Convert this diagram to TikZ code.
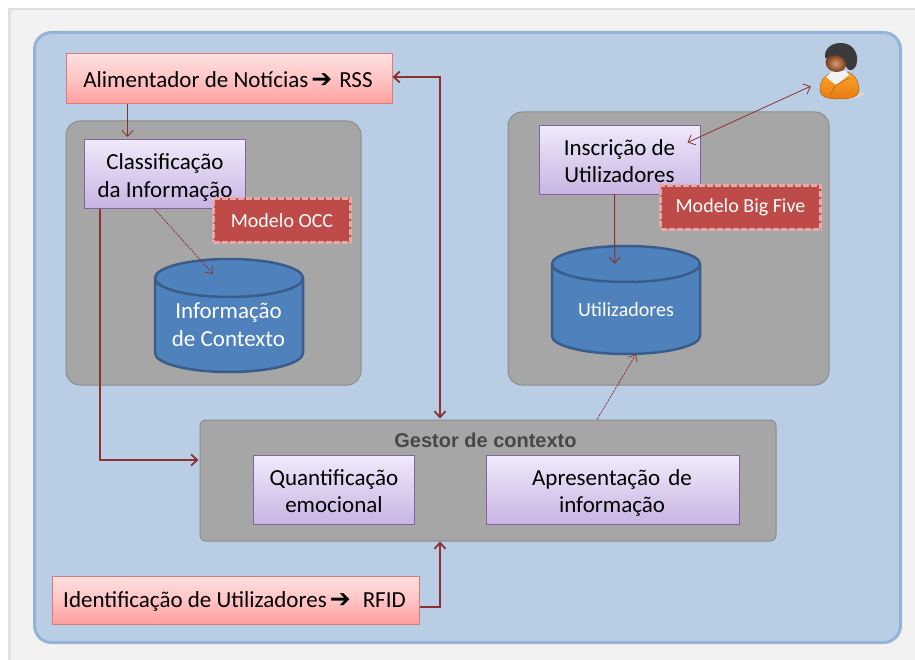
\documentclass[tikz,border=0pt]{standalone}
\usepackage{fontspec}
\setmainfont{Carlito}
\newfontfamily\arrowfont{DejaVu Sans}
\newfontfamily\headfont{Liberation Sans}
\usetikzlibrary{arrows.meta,calc}
\definecolor{panelline}{HTML}{95B3D7}
\definecolor{panelfill}{HTML}{B9CDE5}
\definecolor{groupfill}{HTML}{A6A6A6}
\definecolor{groupline}{HTML}{8C8C8C}
\definecolor{linkcol}{HTML}{8A3230}
\definecolor{modelfill}{HTML}{BE4B48}
\definecolor{modelline}{HTML}{E6A9A7}
\definecolor{cylfill}{HTML}{4F81BD}
\definecolor{cylline}{HTML}{385D8A}
\definecolor{pinktop}{HTML}{FFE0E0}
\definecolor{pinkmid}{HTML}{FFC4C4}
\definecolor{pinkbot}{HTML}{FF9E9E}
\definecolor{pinkline}{HTML}{DA7B7B}
\definecolor{purptop}{HTML}{F0E9FA}
\definecolor{purpbot}{HTML}{C8B4E3}
\definecolor{purpline}{HTML}{8064A2}
\definecolor{shirttop}{HTML}{F8A62E}
\definecolor{shirtbot}{HTML}{E97B10}
\definecolor{shirtline}{HTML}{A8590C}
\definecolor{hairc}{HTML}{3A3A3A}
\definecolor{skinlight}{HTML}{D99A72}
\definecolor{skindark}{HTML}{7A3E1E}
\newcommand{\bigarrow}{{\arrowfont\bfseries\fontsize{25}{20}\selectfont\smash{➔}}}
\newcommand{\ls}{\rule[-7pt]{0pt}{21pt}}
\tikzset{
  x=1pt,y=-1pt,
  groupbox/.style={draw=groupline,line width=1pt,fill=groupfill,rounded corners=14pt,inner sep=0pt},
  pinkbox/.style={draw=pinkline,line width=1pt,top color=pinktop,bottom color=pinkbot,middle color=pinkmid,inner sep=0pt},
  pinktext/.style={inner sep=0pt,font=\fontsize{23}{27}\selectfont,text=black},
  purplebox/.style={draw=purpline,line width=1pt,top color=purptop,bottom color=purpbot,inner sep=0pt},
  purpletext/.style={inner sep=0pt,align=center,font=\fontsize{23}{27}\selectfont,text=black},
  modelbox/.style={draw=modelline,line width=2.2pt,dash pattern=on 6pt off 2pt,fill=modelfill,inner sep=0pt,text=white,font=\fontsize{20}{22}\selectfont},
  cyl/.style={draw=cylline,line width=2.5pt,fill=cylfill},
  cyltext/.style={text=white,align=center,inner sep=0pt},
  thinlink/.style={draw=linkcol,line width=0.8pt,-{Straight Barb[length=6pt,width=11pt]}},
  thicklink/.style={draw=linkcol,line width=1.8pt,-{Straight Barb[length=6pt,width=11pt]}},
  dashlink/.style={draw=linkcol,line width=0.7pt,dash pattern=on 2.5pt off 1pt,-{Straight Barb[length=6pt,width=10pt]}},
}
\begin{document}
\begin{tikzpicture}
\useasboundingbox (0,0) rectangle (915,660);
\fill[white] (0,0) rectangle (915,660);
\fill[black!12] (8,8) rectangle (915,660);
\fill[black!5] (10.5,10.5) rectangle (915,660);
% main panel
\node[draw=panelline,line width=3pt,fill=panelfill,rounded corners=17pt,minimum width=866pt,minimum height=610pt,inner sep=0pt] (panel) at (467.5,337.5) {};
% groups
\node[groupbox,minimum width=295pt,minimum height=264pt] (groupA) at (213.5,253) {};
\node[groupbox,minimum width=321pt,minimum height=273pt] (groupB) at (668.5,248.5) {};
\node[groupbox,rounded corners=6pt,minimum width=576pt,minimum height=121pt] (gestor) at (488,480.5) {};
\node[font=\headfont\bfseries\fontsize{20}{22}\selectfont,text=black!72,inner sep=0pt] (gestorlabel) at (485.5,440.5) {Gestor de contexto};
% cylinders
\draw[cyl] (155,278) arc[start angle=180,end angle=360,x radius=74,y radius=19] -- (303,353) arc[start angle=0,end angle=180,x radius=74,y radius=19] -- cycle;
\draw[cyl] (155,278) arc[start angle=180,end angle=0,x radius=74,y radius=19];
\draw[cyl] (552,264) arc[start angle=180,end angle=360,x radius=74,y radius=18] -- (700,336) arc[start angle=0,end angle=180,x radius=74,y radius=18] -- cycle;
\draw[cyl] (552,264) arc[start angle=180,end angle=0,x radius=74,y radius=18];
\node[minimum width=148pt,minimum height=113pt,inner sep=0pt] (dbA) at (229,315.5) {};
\node[minimum width=148pt,minimum height=108pt,inner sep=0pt] (dbB) at (626,300) {};
\node[cyltext,font=\fontsize{23}{28}\selectfont] (dbAlabel) at (228.5,325) {Informação\\de Contexto};
\node[cyltext,font=\fontsize{20}{22}\selectfont] (dbBlabel) at (626,310) {Utilizadores};
% boxes
\node[pinkbox,minimum width=326pt,minimum height=50pt] (alim) at (229,79) {};
\node[pinktext] (alimlabel) at (228,80) {Alimentador de Notícias\hspace{3pt}\bigarrow\hspace{7pt}RSS};
\node[pinkbox,minimum width=367pt,minimum height=48pt] (ident) at (235.5,600) {};
\node[pinktext] (identlabel) at (234.5,601) {Identificação de Utilizadores\hspace{3pt}\bigarrow\hspace{12pt}RFID};
\node[purplebox,minimum width=161pt,minimum height=69pt] (classif) at (165,174) {};
\node[purpletext,font=\fontsize{23}{28}\selectfont] (classiflabel) at (165,179) {\ls Classificação\\\ls da Informação};
\node[purplebox,minimum width=161pt,minimum height=69pt] (inscr) at (619.5,160) {};
\node[purpletext] (inscrlabel) at (619.5,164.5) {\ls Inscrição de\\\ls Utilizadores};
\node[purplebox,minimum width=161pt,minimum height=69pt] (quant) at (334,490) {};
\node[purpletext] (quantlabel) at (334,494.5) {\ls Quantificação\\\ls emocional};
\node[purplebox,minimum width=253pt,minimum height=69pt] (apres) at (612.5,490) {};
\node[purpletext] (apreslabel) at (612,494.5) {\ls Apresentação\hspace{3pt} de\\\ls informação};
\node[modelbox,minimum width=137pt,minimum height=44pt] (occ) at (282,220.5) {Modelo OCC};
\node[modelbox,minimum width=160pt,minimum height=44pt] (big) at (740.5,207.5) {Modelo Big Five};
% person
\node[minimum width=40pt,minimum height=57pt,inner sep=0pt] (person) at (840,71.5) {};
\fill[black!15] (822,94) .. controls (835,102) and (855,100) .. (866,94) .. controls (858,90) and (830,90) .. (822,94) -- cycle;
\shade[top color=shirttop,bottom color=shirtbot,draw=shirtline,line width=0.4pt] (820,90) .. controls (820,80) and (826,74) .. (833,72) -- (847,72) .. controls (855,74) and (859,82) .. (859,90) .. controls (859,97) and (850,99) .. (840,99) .. controls (828,99) and (820,97) .. (820,90) -- cycle;
\fill[black!5] (826,77) -- (832,71) -- (846,71) -- (849,75) -- (836,85) -- cycle;
\draw[shirtline,line width=0.4pt] (836,85) -- (830,95);
\draw[shirtline,line width=0.4pt] (836,85) -- (849,78);
\fill[hairc] (825,58) .. controls (824,48) and (832,43) .. (841,43) .. controls (852,43) and (858,52) .. (857,61) .. controls (857,67) and (853,71) .. (849,70) -- (840,60) -- cycle;
\shade[inner color=skinlight,outer color=skindark] (825.5,62) .. controls (825.5,58) and (830,55) .. (835,55) .. controls (841,55) and (846,59) .. (846,64) .. controls (846,70) and (841,72) .. (836,72) .. controls (830,72) and (825.5,67) .. (825.5,62) -- cycle;
\fill[hairc] (825,58) .. controls (830,55) and (838,54) .. (841,57) .. controls (845,60) and (848,65) .. (849,70) -- (852,60) -- (845,50) -- (830,50) -- cycle;
% connectors
\draw[thinlink] ($(alim.south west)+(62,0)$) -- ($(classif.north west)+(43.5,-2)$);
\draw[thicklink] ($(classif.south west)+(16,0)$) |- ($(gestor.west)+(-1,-20.5)$);
\draw[dashlink] ($(classif.south west)+(70.5,0)$) -- ($(dbA.north west)+(58,15)$);
\draw[thicklink,{Straight Barb[length=6pt,width=11pt]}-{Straight Barb[length=6pt,width=11pt]}] ($(alim.east)+(0,-2)$) -| ($(gestor.north)+(-48,-1)$);
\draw[thicklink] (ident.east) ++(0,7) -| ($(gestor.south)+(-48,0)$);
\draw[thinlink,{Straight Barb[length=6pt,width=11pt]}-{Straight Barb[length=6pt,width=11pt]}] ($(inscr.north east)+(-13,17.5)$) -- ($(person.south west)+(-9,-14)$);
\draw[thinlink,line width=1pt] ($(inscr.south west)+(76,-1)$) -- ($(dbB.north west)+(63,18)$);
\draw[dashlink] ($(gestor.north)+(109,0)$) -- ($(dbB.south)+(10,0)$);
\end{tikzpicture}
\end{document}
